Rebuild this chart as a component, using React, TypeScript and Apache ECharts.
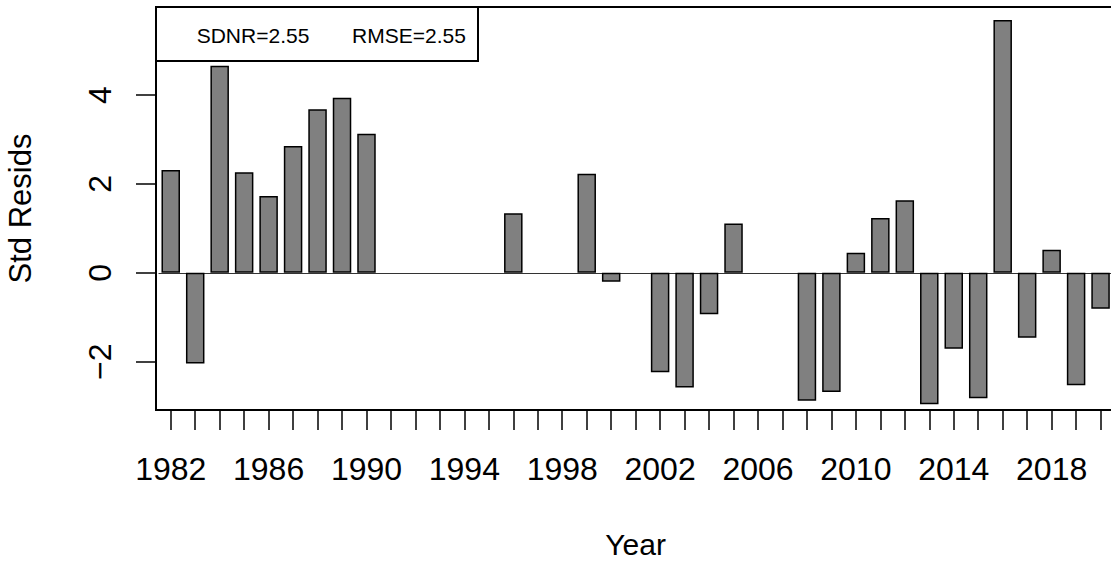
import React, { useEffect, useRef } from "react";
import * as echarts from "echarts";

const years: string[] = [
  "1982", "1983", "1984", "1985", "1986", "1987", "1988", "1989", "1990", "1991",
  "1992", "1993", "1994", "1995", "1996", "1997", "1998", "1999", "2000", "2001",
  "2002", "2003", "2004", "2005", "2006", "2007", "2008", "2009", "2010", "2011",
  "2012", "2013", "2014", "2015", "2016", "2017", "2018", "2019", "2020",
];

const stdResids: (number | null)[] = [
  2.31, -2.04, 4.66, 2.26, 1.73, 2.85, 3.68, 3.94, 3.13, null,
  null, null, null, null, 1.34, null, null, 2.23, -0.2, null,
  -2.24, -2.58, -0.93, 1.11, null, null, -2.88, -2.68, 0.45, 1.23,
  1.63, -2.96, -1.71, -2.82, 5.69, -1.46, 0.52, -2.53, -0.81,
];

const yTickValues: number[] = [-2, 0, 2, 4];
const statLabels: string[] = ["SDNR=2.55", "RMSE=2.55"];

const FONT = "'Liberation Sans', Arial, Helvetica, sans-serif";

export default function App() {
  const ref = useRef<HTMLDivElement>(null);

  useEffect(() => {
    if (!ref.current) return;
    const chart = echarts.init(ref.current, undefined, { renderer: "svg" });
    chart.setOption({
      animation: false,
      backgroundColor: "#ffffff",
      grid: {
        left: 158.5,
        top: 7,
        width: 954.3,
        height: 403,
        containLabel: false,
        outerBoundsMode: "none",
      },
      xAxis: {
        type: "category",
        data: years,
        boundaryGap: true,
        axisLine: { show: false, onZero: false },
        axisTick: {
          show: true,
          alignWithLabel: true,
          interval: 0,
          length: 20,
          lineStyle: { color: "#000", width: 1.5 },
        },
        axisLabel: {
          interval: 3,
          fontSize: 32,
          color: "#000",
          fontFamily: FONT,
          margin: 43,
        },
        splitLine: { show: false },
        name: "Year",
        nameLocation: "middle",
        nameGap: 122,
        nameTextStyle: { fontSize: 30, lineHeight: 24, color: "#000", fontFamily: FONT },
      },
      yAxis: {
        type: "value",
        min: -3.087,
        max: 5.98,
        offset: 2.5,
        axisLine: { show: false },
        axisTick: {
          show: true,
          customValues: yTickValues,
          length: 20,
          lineStyle: { color: "#000", width: 1.5 },
        },
        axisLabel: {
          customValues: yTickValues,
          rotate: 90,
          fontSize: 32,
          color: "#000",
          fontFamily: FONT,
          margin: 40,
          formatter: (v: number) => (v < 0 ? "\u2212" + Math.abs(v) : String(v)),
        },
        splitLine: { show: false },
        name: "Std Resids",
        nameLocation: "middle",
        nameRotate: 90,
        nameGap: 120,
        nameTextStyle: { fontSize: 31, color: "#000", fontFamily: FONT },
      },
      series: [
        {
          type: "bar",
          data: stdResids,
          barWidth: 18.5,
          itemStyle: { color: "#808080", borderColor: "#000", borderWidth: 1.5 },
          markLine: {
            silent: true,
            symbol: "none",
            label: { show: false },
            lineStyle: { color: "#333", width: 1, type: "solid" },
            data: [{ yAxis: 0 }],
            z: 1,
          },
          z: 2,
        },
      ],
      graphic: [
        {
          type: "rect",
          shape: { x: 156, y: 7, width: 960, height: 403 },
          style: { fill: "none", stroke: "#000", lineWidth: 2 },
          z: 10,
        },
        {
          type: "rect",
          shape: { x: 156, y: 7, width: 322, height: 54 },
          style: { fill: "#fff", stroke: "#000", lineWidth: 2 },
          z: 11,
        },
        {
          type: "text",
          x: 253,
          y: 35,
          style: {
            text: statLabels[0],
            fontSize: 21,
            fontFamily: FONT,
            fill: "#000",
            align: "center",
            verticalAlign: "middle",
          },
          z: 12,
        },
        {
          type: "text",
          x: 409,
          y: 35,
          style: {
            text: statLabels[1],
            fontSize: 21,
            fontFamily: FONT,
            fill: "#000",
            align: "center",
            verticalAlign: "middle",
          },
          z: 12,
        },
      ],
    });
    return () => chart.dispose();
  }, []);

  return (
    <div
      ref={ref}
      style={{ position: "fixed", left: 0, top: 0, width: 1111, height: 561 }}
    />
  );
}
